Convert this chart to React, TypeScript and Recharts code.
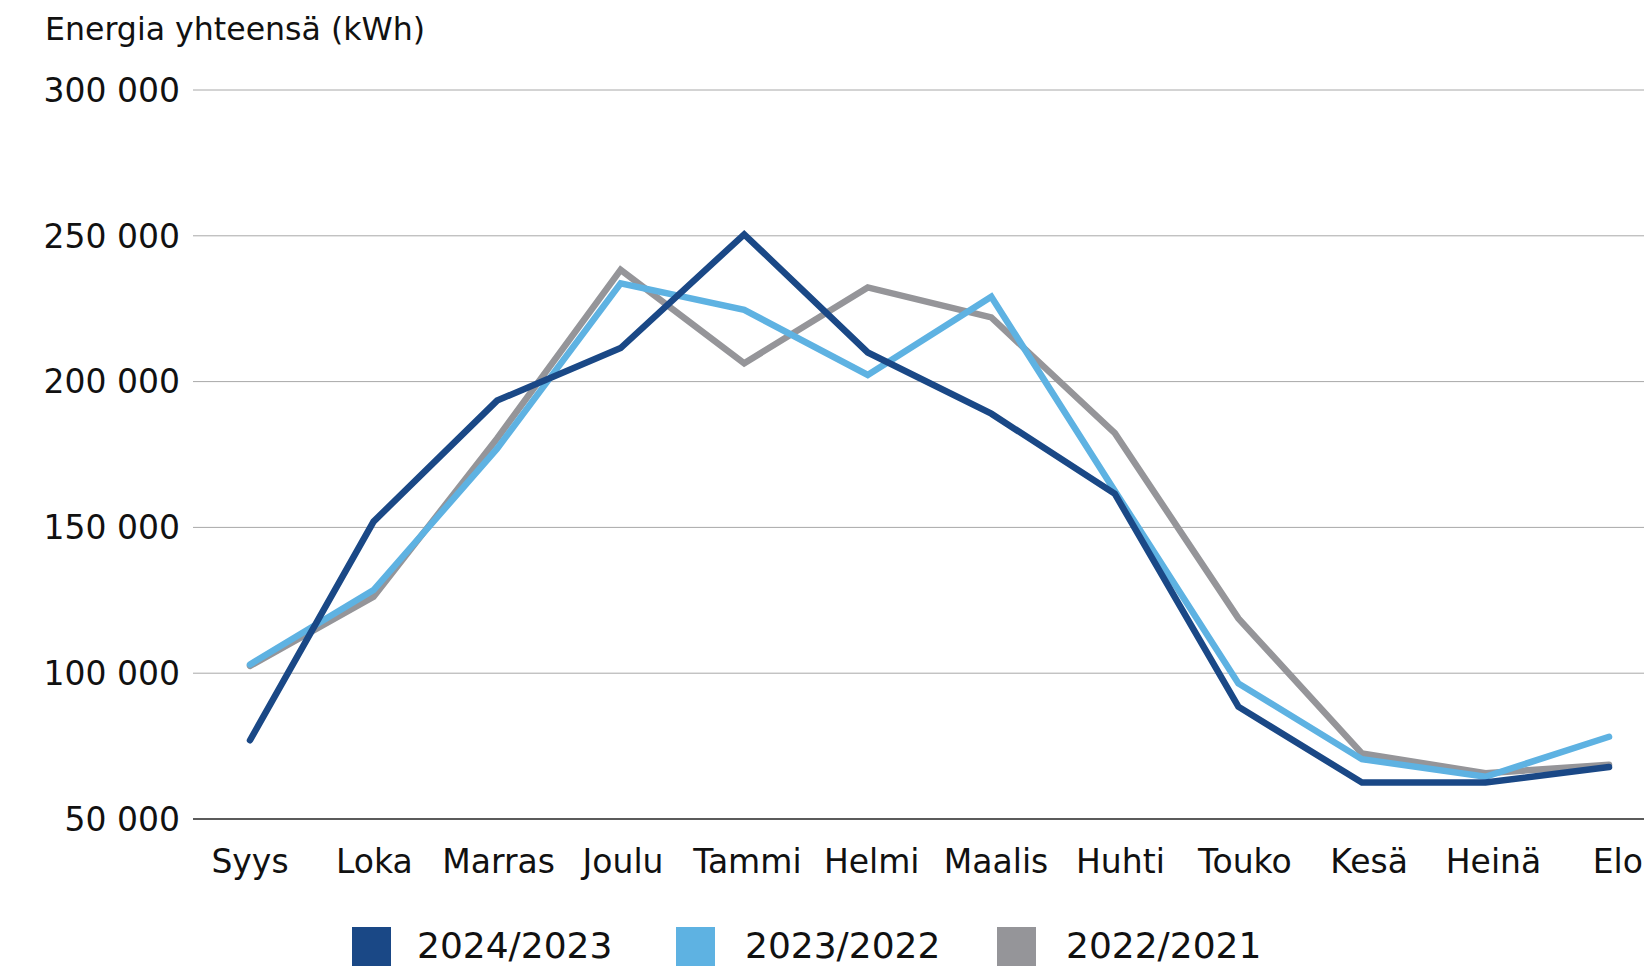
import React from 'react';
import { LineChart, Line, XAxis, YAxis, CartesianGrid } from 'recharts';

const months = ['Syys', 'Loka', 'Marras', 'Joulu', 'Tammi', 'Helmi', 'Maalis', 'Huhti', 'Touko', 'Kesä', 'Heinä', 'Elo'];
const s2024 = [77000, 152000, 193500, 211500, 250500, 210000, 189000, 161500, 88500, 62500, 62500, 67800];
const s2023 = [103000, 128500, 177000, 233700, 224600, 202300, 229100, 162500, 96500, 70500, 64500, 78200];
const s2022 = [102500, 126200, 180500, 238300, 206300, 232300, 222000, 182300, 118800, 72500, 65700, 68600];
const yTicks = [50000, 100000, 150000, 200000, 250000, 300000];
const seriesNames = ['2024/2023', '2023/2022', '2022/2021'];
const seriesColors = ['#1a4886', '#5eb2e2', '#959599'];
const legendLefts = [352, 676, 997];
const legendTextLefts = [417, 745, 1066];

const data = months.map((m, i) => ({ i, month: m, a: s2024[i], b: s2023[i], c: s2022[i] }));

const FONT = '"DejaVu Sans", sans-serif';
const fmt = (v: number) => String(v).replace(/\B(?=(\d{3})+(?!\d))/g, ' ');

const MonthTick = (props: any) => {
  const { x, y, payload } = props;
  const idx = Number(payload.value);
  return (
    <text x={x + idx * 0.8} y={y} dy="0.71em" textAnchor="middle" fontFamily={FONT} fontSize={33} fill="#111">
      {months[idx] ?? ''}
    </text>
  );
};

export default function App() {
  return (
    <div style={{ position: 'absolute', left: 0, top: 0, width: 1644, height: 967, overflow: 'hidden', background: '#fff' }}>
      <div style={{ position: 'absolute', left: 45, top: 13, fontFamily: FONT, fontSize: 31.6, lineHeight: '32px', color: '#111', whiteSpace: 'nowrap' }}>
        Energia yhteensä (kWh)
      </div>
      <LineChart width={1644} height={967} data={data} margin={{ top: 90, right: 0, left: 0, bottom: 88 }}>
        <CartesianGrid vertical={false} stroke="#a8a8a8" strokeWidth={1} />
        <XAxis
          dataKey="i"
          type="number"
          domain={[-0.4614, 11.283]}
          allowDataOverflow
          ticks={months.map((_, i) => i)}
          interval={0}
          height={60}
          tickLine={false}
          tickSize={0}
          tickMargin={31}
          axisLine={{ stroke: '#333', strokeWidth: 1.6 }}
          tick={<MonthTick />}
        />
        <YAxis
          width={193}
          domain={[50000, 300000]}
          ticks={yTicks}
          interval={0}
          tickFormatter={fmt}
          axisLine={false}
          tickLine={false}
          tickSize={0}
          tickMargin={13}
          tick={{ fontFamily: FONT, fontSize: 33, fill: '#111' }}
        />
        <Line dataKey="c" type="linear" stroke={seriesColors[2]} strokeWidth={6.5} dot={false} activeDot={false} strokeLinecap="round" strokeLinejoin="miter" isAnimationActive={false} />
        <Line dataKey="b" type="linear" stroke={seriesColors[1]} strokeWidth={6.5} dot={false} activeDot={false} strokeLinecap="round" strokeLinejoin="miter" isAnimationActive={false} />
        <Line dataKey="a" type="linear" stroke={seriesColors[0]} strokeWidth={6.5} dot={false} activeDot={false} strokeLinecap="round" strokeLinejoin="miter" isAnimationActive={false} />
      </LineChart>
      {seriesNames.map((n, k) => (
        <React.Fragment key={n}>
          <div style={{ position: 'absolute', left: legendLefts[k], top: 927, width: 39, height: 39, background: seriesColors[k] }} />
          <div style={{ position: 'absolute', left: legendTextLefts[k], top: 928, fontFamily: FONT, fontSize: 36, lineHeight: '36px', color: '#111', whiteSpace: 'nowrap' }}>
            {n}
          </div>
        </React.Fragment>
      ))}
    </div>
  );
}
